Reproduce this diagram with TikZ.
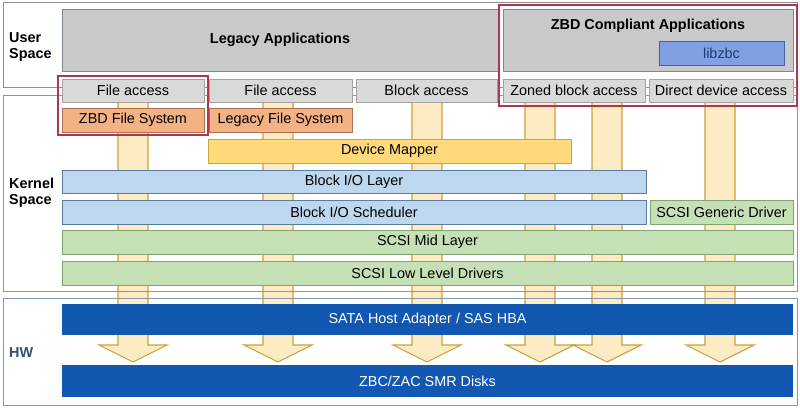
\documentclass[tikz,border=0pt]{standalone}
\usepackage{fontspec}
\setmainfont{Liberation Sans}
\definecolor{panelgray}{HTML}{8E8E8E}
\definecolor{panelblue}{HTML}{8797B0}
\definecolor{appfill}{HTML}{C9C9C9}
\definecolor{appline}{HTML}{7C8896}
\definecolor{accfill}{HTML}{D9D9D9}
\definecolor{accline}{HTML}{A3A3A3}
\definecolor{fsfill}{HTML}{F4B183}
\definecolor{fsline}{HTML}{A9714F}
\definecolor{dmfill}{HTML}{FFD97A}
\definecolor{dmline}{HTML}{C9A24A}
\definecolor{bfill}{HTML}{BDD7EE}
\definecolor{bline}{HTML}{5B7BA3}
\definecolor{gfill}{HTML}{C5E0B4}
\definecolor{gline}{HTML}{82A372}
\definecolor{hwfill}{HTML}{1257B2}
\definecolor{libfill}{HTML}{819FE3}
\definecolor{libline}{HTML}{4262A8}
\definecolor{libtext}{HTML}{1F3A70}
\definecolor{redline}{HTML}{B0354F}
\definecolor{shaftfill}{HTML}{FDEBC4}
\definecolor{shaftline}{HTML}{C9A23C}
\definecolor{hwlabel}{HTML}{34506E}
\tikzset{
  txt/.style={font=\fontsize{14.4}{16}\selectfont},
  btxt/.style={font=\bfseries\fontsize{14.4}{16}\selectfont},
  box/.style={txt, anchor=north west, inner sep=0pt, outer sep=0pt, line width=0.9pt, align=center},
  appbox/.style={box, draw=appline, fill=appfill},
  accbox/.style={box, draw=accline, fill=accfill},
  fsbox/.style={box, draw=fsline, fill=fsfill},
  dmbox/.style={box, draw=dmline, fill=dmfill},
  bbox/.style={box, draw=bline, fill=bfill},
  gbox/.style={box, draw=gline, fill=gfill},
  hwbox/.style={box, fill=hwfill, text=white},
  libbox/.style={box, draw=libline, fill=libfill, text=libtext},
  redframe/.style={draw=redline, line width=1.8pt},
  shaft/.style={draw=shaftline, fill=shaftfill, line width=1.1pt, line join=miter},
  sidelabel/.style={btxt, anchor=west, align=left, inner sep=0pt}
}
\newcommand{\bx}[6]{\node[#1, minimum width=#4-#2, minimum height=#5-#3] (#6) at (#2,#3)}
\begin{document}
\begin{tikzpicture}[x=1pt,y=-1pt]
\useasboundingbox (0,0) rectangle (800,407);
\fill[white] (0,0) rectangle (800,407);
% panel backgrounds
\fill[white] (3,2) rectangle (797,87);
\fill[white] (3,95) rectangle (797,291);
\fill[white] (3,298) rectangle (797,405);
% shafts / arrows
\foreach \c in {133,278,427,540,607,720}{
  \draw[shaft] ({\c-15},100) -- ({\c-15},345) -- ({\c-34},345) -- (\c,362) -- ({\c+34},345) -- ({\c+15},345) -- ({\c+15},100);
}
% panel borders
\draw[panelgray, line width=1pt] (3,2) rectangle (797,87);
\draw[panelblue, line width=1pt] (3,95) rectangle (797,291);
\draw[panelblue, line width=1pt] (3,298) rectangle (797,405);
% side labels
\node[sidelabel] (lus) at (9,47) {User\\Space};
\node[sidelabel] (lks) at (9,193) {Kernel\\Space};
\node[sidelabel, text=hwlabel] (lhw) at (9,353) {HW};
% user space
\bx{appbox,btxt}{62}{9}{498}{71}{legacy} {Legacy Applications};
\bx{appbox}{503}{9}{793}{71}{zbdapp} {};
\node[btxt] (zbdtitle) at (648,26) {ZBD Compliant Applications};
\bx{libbox}{659}{41}{784}{65}{libzbc} {libzbc};
\bx{accbox}{62}{79}{204}{102}{fa1} {File access};
\bx{accbox}{209}{79}{352}{102}{fa2} {File access};
\bx{accbox}{356}{79}{497}{102}{ba} {Block access};
\bx{accbox}{503}{79}{645}{102}{zba} {Zoned block access};
\bx{accbox}{649}{79}{793}{102}{dda} {Direct device access};
% kernel
\bx{fsbox}{62}{108}{204}{132}{zfs} {ZBD File System};
\bx{fsbox}{209}{108}{352}{132}{lfs} {Legacy File System};
\bx{dmbox}{208}{139}{571}{163}{dm} {Device Mapper};
\bx{bbox}{62}{170}{646}{193}{biol} {Block I/O Layer};
\bx{bbox}{62}{200}{646}{224}{bios} {Block I/O Scheduler};
\bx{gbox}{650}{200}{793}{224}{sgd} {SCSI Generic Driver};
\bx{gbox}{62}{230}{793}{254}{sml} {SCSI Mid Layer};
\bx{gbox}{62}{261}{793}{285}{sll} {SCSI Low Level Drivers};
% hardware
\bx{hwbox}{62}{304}{793}{335}{sata} {SATA Host Adapter / SAS HBA};
\bx{hwbox}{62}{365}{793}{397}{disks} {ZBC/ZAC SMR Disks};
% red frames
\draw[redframe] (58,76) rectangle (208,135);
\draw[redframe] (499,5) rectangle (797,106);
\end{tikzpicture}
\end{document}
